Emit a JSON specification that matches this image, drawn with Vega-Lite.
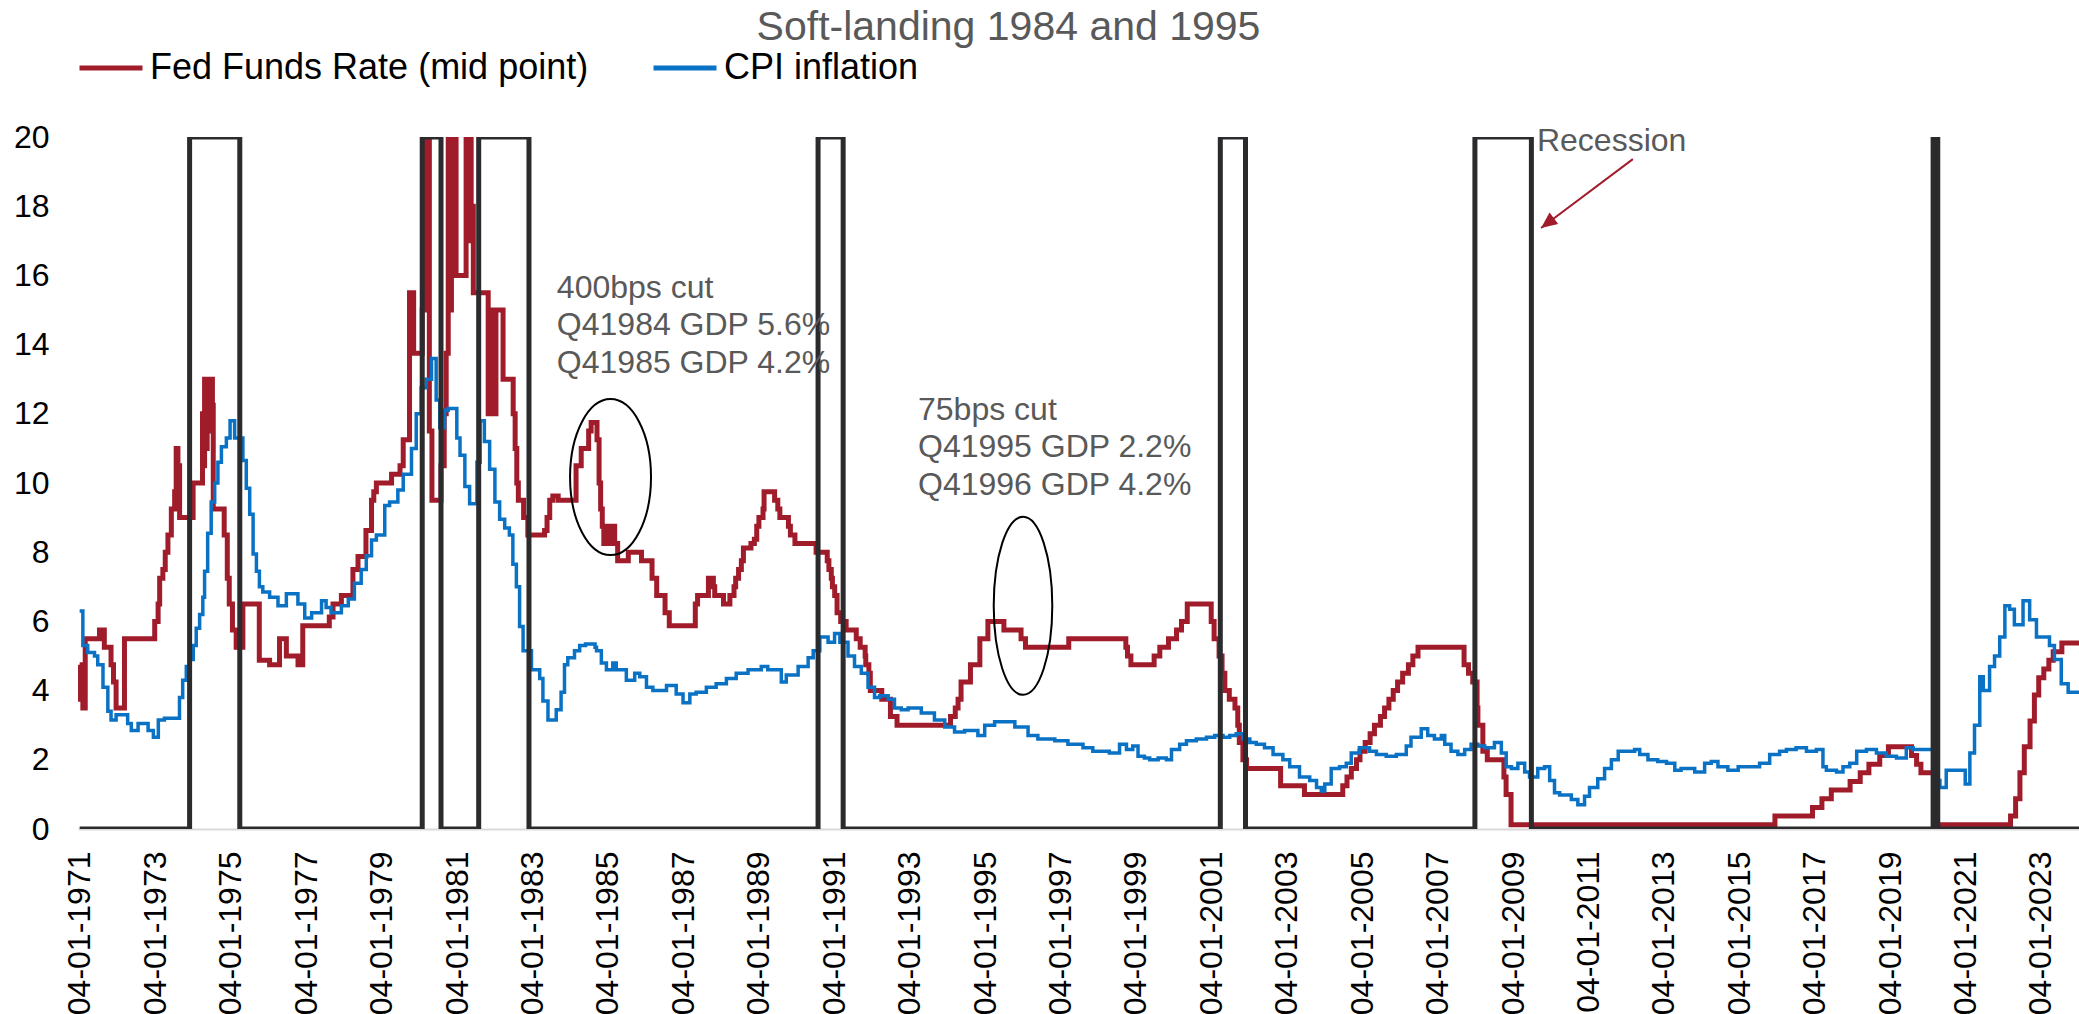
{
  "$schema": "https://vega.github.io/schema/vega-lite/v6.json",
  "width": 2001,
  "height": 692,
  "autosize": {"type": "none"},
  "padding": {"left": 78, "top": 137, "right": 0, "bottom": 185},
  "background": "white",
  "title": {
    "text": "Soft-landing 1984 and 1995",
    "font": "Liberation Sans",
    "fontSize": 41,
    "fontWeight": "normal",
    "color": "#595959",
    "anchor": "middle",
    "frame": "group",
    "dx": -70,
    "dy": 19
  },
  "datasets": {
    "fed": [
      {"date": "1971-01-01", "value": 4.75}, {"date": "1971-01-08", "value": 3.75}, {"date": "1971-01-15", "value": 4.5},
      {"date": "1971-01-22", "value": 3.75}, {"date": "1971-02-01", "value": 3.5}, {"date": "1971-02-24", "value": 5.5},
      {"date": "1971-07-12", "value": 5.75}, {"date": "1971-08-28", "value": 5.25}, {"date": "1971-11-01", "value": 4.75},
      {"date": "1971-11-25", "value": 4.25}, {"date": "1971-12-20", "value": 3.5}, {"date": "1972-03-10", "value": 5.5},
      {"date": "1972-12-28", "value": 6.0}, {"date": "1973-01-30", "value": 6.5}, {"date": "1973-02-14", "value": 7.25},
      {"date": "1973-03-17", "value": 7.5}, {"date": "1973-04-09", "value": 8.0}, {"date": "1973-05-05", "value": 8.5},
      {"date": "1973-06-07", "value": 9.25}, {"date": "1973-07-09", "value": 9.75}, {"date": "1973-07-24", "value": 11.0},
      {"date": "1973-08-10", "value": 10.5}, {"date": "1973-08-26", "value": 9.0}, {"date": "1974-01-04", "value": 10.0},
      {"date": "1974-04-05", "value": 12.0}, {"date": "1974-04-15", "value": 10.5}, {"date": "1974-04-25", "value": 13.0},
      {"date": "1974-05-10", "value": 11.0}, {"date": "1974-05-20", "value": 13.0}, {"date": "1974-06-05", "value": 11.5},
      {"date": "1974-06-15", "value": 13.0}, {"date": "1974-07-10", "value": 12.25}, {"date": "1974-07-18", "value": 9.25},
      {"date": "1974-11-01", "value": 8.5}, {"date": "1974-12-01", "value": 7.25}, {"date": "1974-12-20", "value": 6.5},
      {"date": "1975-01-20", "value": 5.75}, {"date": "1975-02-25", "value": 5.25}, {"date": "1975-05-01", "value": 6.5},
      {"date": "1975-10-07", "value": 4.875}, {"date": "1976-01-15", "value": 4.75}, {"date": "1976-04-20", "value": 5.5},
      {"date": "1976-06-25", "value": 5.0}, {"date": "1976-10-16", "value": 4.75}, {"date": "1976-12-01", "value": 5.875},
      {"date": "1977-08-15", "value": 6.125}, {"date": "1977-09-20", "value": 6.5}, {"date": "1977-12-10", "value": 6.75},
      {"date": "1978-04-01", "value": 7.5}, {"date": "1978-05-20", "value": 7.875}, {"date": "1978-08-05", "value": 8.625},
      {"date": "1978-09-28", "value": 9.5}, {"date": "1978-10-20", "value": 9.75}, {"date": "1978-11-14", "value": 10.0},
      {"date": "1979-04-10", "value": 10.25}, {"date": "1979-07-01", "value": 10.5}, {"date": "1979-08-01", "value": 11.25},
      {"date": "1979-10-01", "value": 15.5}, {"date": "1979-11-10", "value": 13.75}, {"date": "1980-02-01", "value": 15.0},
      {"date": "1980-03-01", "value": 20.0}, {"date": "1980-04-10", "value": 11.5}, {"date": "1980-05-05", "value": 9.5},
      {"date": "1980-08-01", "value": 10.5}, {"date": "1980-09-01", "value": 12.0}, {"date": "1980-09-20", "value": 13.75},
      {"date": "1980-10-10", "value": 20.0}, {"date": "1980-10-25", "value": 15.0}, {"date": "1980-11-10", "value": 20.0},
      {"date": "1980-11-25", "value": 16.0}, {"date": "1980-12-05", "value": 20.0}, {"date": "1980-12-25", "value": 16.0},
      {"date": "1981-04-01", "value": 20.0}, {"date": "1981-04-15", "value": 17.0}, {"date": "1981-05-01", "value": 20.0},
      {"date": "1981-05-20", "value": 18.0}, {"date": "1981-06-10", "value": 15.5}, {"date": "1981-11-01", "value": 12.0},
      {"date": "1981-11-15", "value": 15.0}, {"date": "1981-12-01", "value": 12.0}, {"date": "1981-12-15", "value": 14.5},
      {"date": "1982-01-01", "value": 12.0}, {"date": "1982-01-15", "value": 15.0}, {"date": "1982-03-25", "value": 13.0},
      {"date": "1982-07-01", "value": 12.0}, {"date": "1982-07-20", "value": 11.0}, {"date": "1982-08-05", "value": 10.0},
      {"date": "1982-08-20", "value": 9.5}, {"date": "1982-10-10", "value": 9.0}, {"date": "1982-11-20", "value": 8.5},
      {"date": "1983-05-01", "value": 8.625}, {"date": "1983-05-25", "value": 9.0}, {"date": "1983-06-20", "value": 9.5},
      {"date": "1983-07-20", "value": 9.625}, {"date": "1983-09-10", "value": 9.5}, {"date": "1984-03-01", "value": 10.5},
      {"date": "1984-04-20", "value": 11.0}, {"date": "1984-07-01", "value": 11.5}, {"date": "1984-07-25", "value": 11.75},
      {"date": "1984-09-20", "value": 11.25}, {"date": "1984-10-10", "value": 10.0}, {"date": "1984-10-25", "value": 9.25},
      {"date": "1984-11-10", "value": 8.75}, {"date": "1984-11-25", "value": 8.25}, {"date": "1984-12-10", "value": 8.75},
      {"date": "1984-12-25", "value": 8.25}, {"date": "1985-01-15", "value": 8.75}, {"date": "1985-02-01", "value": 8.25},
      {"date": "1985-02-20", "value": 8.75}, {"date": "1985-03-10", "value": 8.25}, {"date": "1985-04-08", "value": 7.75},
      {"date": "1985-07-20", "value": 8.0}, {"date": "1985-11-25", "value": 7.75}, {"date": "1986-03-07", "value": 7.25},
      {"date": "1986-04-21", "value": 6.75}, {"date": "1986-07-11", "value": 6.25}, {"date": "1986-08-21", "value": 5.875},
      {"date": "1987-04-30", "value": 6.5}, {"date": "1987-05-22", "value": 6.75}, {"date": "1987-09-04", "value": 7.25},
      {"date": "1987-10-22", "value": 7.0}, {"date": "1987-11-04", "value": 6.75}, {"date": "1988-01-28", "value": 6.5},
      {"date": "1988-03-30", "value": 6.75}, {"date": "1988-05-09", "value": 7.0}, {"date": "1988-05-25", "value": 7.25},
      {"date": "1988-06-22", "value": 7.5}, {"date": "1988-07-19", "value": 7.75}, {"date": "1988-08-08", "value": 8.125},
      {"date": "1988-10-20", "value": 8.25}, {"date": "1988-11-22", "value": 8.375}, {"date": "1988-12-15", "value": 8.75},
      {"date": "1989-01-05", "value": 9.0}, {"date": "1989-02-14", "value": 9.25}, {"date": "1989-02-24", "value": 9.75},
      {"date": "1989-06-06", "value": 9.5}, {"date": "1989-07-07", "value": 9.25}, {"date": "1989-07-27", "value": 9.0},
      {"date": "1989-10-18", "value": 8.75}, {"date": "1989-11-06", "value": 8.5}, {"date": "1989-12-20", "value": 8.25},
      {"date": "1990-07-13", "value": 8.0}, {"date": "1990-10-29", "value": 7.75}, {"date": "1990-11-14", "value": 7.5},
      {"date": "1990-12-07", "value": 7.25}, {"date": "1990-12-18", "value": 7.0}, {"date": "1991-01-09", "value": 6.75},
      {"date": "1991-02-01", "value": 6.25}, {"date": "1991-03-08", "value": 6.0}, {"date": "1991-04-30", "value": 5.75},
      {"date": "1991-08-06", "value": 5.5}, {"date": "1991-09-13", "value": 5.25}, {"date": "1991-10-31", "value": 5.0},
      {"date": "1991-11-06", "value": 4.75}, {"date": "1991-12-06", "value": 4.5}, {"date": "1991-12-20", "value": 4.0},
      {"date": "1992-04-09", "value": 3.75}, {"date": "1992-07-02", "value": 3.25}, {"date": "1992-09-04", "value": 3.0},
      {"date": "1994-02-04", "value": 3.25}, {"date": "1994-03-22", "value": 3.5}, {"date": "1994-04-18", "value": 3.75},
      {"date": "1994-05-17", "value": 4.25}, {"date": "1994-08-16", "value": 4.75}, {"date": "1994-11-15", "value": 5.5},
      {"date": "1995-02-01", "value": 6.0}, {"date": "1995-07-06", "value": 5.75}, {"date": "1995-12-19", "value": 5.5},
      {"date": "1996-01-31", "value": 5.25}, {"date": "1997-03-25", "value": 5.5}, {"date": "1998-09-29", "value": 5.25},
      {"date": "1998-10-15", "value": 5.0}, {"date": "1998-11-17", "value": 4.75}, {"date": "1999-06-30", "value": 5.0},
      {"date": "1999-08-24", "value": 5.25}, {"date": "1999-11-16", "value": 5.5}, {"date": "2000-02-02", "value": 5.75},
      {"date": "2000-03-21", "value": 6.0}, {"date": "2000-05-16", "value": 6.5}, {"date": "2001-01-03", "value": 6.0},
      {"date": "2001-01-31", "value": 5.5}, {"date": "2001-03-20", "value": 5.0}, {"date": "2001-04-18", "value": 4.5},
      {"date": "2001-05-15", "value": 4.0}, {"date": "2001-06-27", "value": 3.75}, {"date": "2001-08-21", "value": 3.5},
      {"date": "2001-09-17", "value": 3.0}, {"date": "2001-10-02", "value": 2.5}, {"date": "2001-11-06", "value": 2.0},
      {"date": "2001-12-11", "value": 1.75}, {"date": "2002-11-06", "value": 1.25}, {"date": "2003-06-25", "value": 1.0},
      {"date": "2004-06-30", "value": 1.25}, {"date": "2004-08-10", "value": 1.5}, {"date": "2004-09-21", "value": 1.75},
      {"date": "2004-11-10", "value": 2.0}, {"date": "2004-12-14", "value": 2.25}, {"date": "2005-02-02", "value": 2.5},
      {"date": "2005-03-22", "value": 2.75}, {"date": "2005-05-03", "value": 3.0}, {"date": "2005-06-30", "value": 3.25},
      {"date": "2005-08-09", "value": 3.5}, {"date": "2005-09-20", "value": 3.75}, {"date": "2005-11-01", "value": 4.0},
      {"date": "2005-12-13", "value": 4.25}, {"date": "2006-01-31", "value": 4.5}, {"date": "2006-03-28", "value": 4.75},
      {"date": "2006-05-10", "value": 5.0}, {"date": "2006-06-29", "value": 5.25}, {"date": "2007-09-18", "value": 4.75},
      {"date": "2007-10-31", "value": 4.5}, {"date": "2007-12-11", "value": 4.25}, {"date": "2008-01-22", "value": 3.5},
      {"date": "2008-01-30", "value": 3.0}, {"date": "2008-03-18", "value": 2.25}, {"date": "2008-04-30", "value": 2.0},
      {"date": "2008-10-08", "value": 1.5}, {"date": "2008-10-29", "value": 1.0}, {"date": "2008-12-16", "value": 0.125},
      {"date": "2015-12-16", "value": 0.375}, {"date": "2016-12-14", "value": 0.625}, {"date": "2017-03-15", "value": 0.875},
      {"date": "2017-06-14", "value": 1.125}, {"date": "2017-12-13", "value": 1.375}, {"date": "2018-03-21", "value": 1.625},
      {"date": "2018-06-13", "value": 1.875}, {"date": "2018-09-26", "value": 2.125}, {"date": "2018-12-19", "value": 2.375},
      {"date": "2019-07-31", "value": 2.125}, {"date": "2019-09-18", "value": 1.875}, {"date": "2019-10-30", "value": 1.625},
      {"date": "2020-03-03", "value": 1.125}, {"date": "2020-03-15", "value": 0.125}, {"date": "2022-03-16", "value": 0.375},
      {"date": "2022-05-04", "value": 0.875}, {"date": "2022-06-15", "value": 1.625}, {"date": "2022-07-27", "value": 2.375},
      {"date": "2022-09-21", "value": 3.125}, {"date": "2022-11-02", "value": 3.875}, {"date": "2022-12-14", "value": 4.375},
      {"date": "2023-02-01", "value": 4.625}, {"date": "2023-03-22", "value": 4.875}, {"date": "2023-05-03", "value": 5.125},
      {"date": "2023-07-26", "value": 5.375}, {"date": "2024-01-08", "value": 5.375}
    ],
    "cpi": [
      {"date": "1971-01-01", "value": 6.3}, {"date": "1971-02-01", "value": 5.3}, {"date": "1971-03-20", "value": 5.1},
      {"date": "1971-05-25", "value": 5.0}, {"date": "1971-06-25", "value": 4.75}, {"date": "1971-08-15", "value": 4.1},
      {"date": "1971-10-01", "value": 3.4}, {"date": "1971-11-01", "value": 3.15}, {"date": "1971-12-20", "value": 3.3},
      {"date": "1972-04-10", "value": 3.05}, {"date": "1972-05-15", "value": 2.85}, {"date": "1972-07-20", "value": 3.05},
      {"date": "1972-10-25", "value": 2.85}, {"date": "1972-12-15", "value": 2.65}, {"date": "1973-02-01", "value": 3.15},
      {"date": "1973-04-01", "value": 3.2}, {"date": "1973-08-25", "value": 3.8}, {"date": "1973-09-25", "value": 4.3},
      {"date": "1973-10-30", "value": 4.7}, {"date": "1973-12-01", "value": 4.9}, {"date": "1974-01-05", "value": 5.3},
      {"date": "1974-02-03", "value": 5.8}, {"date": "1974-03-08", "value": 6.2}, {"date": "1974-04-08", "value": 6.7},
      {"date": "1974-04-25", "value": 7.45}, {"date": "1974-05-25", "value": 8.55}, {"date": "1974-06-28", "value": 9.45},
      {"date": "1974-08-01", "value": 10.0}, {"date": "1974-09-01", "value": 10.6}, {"date": "1974-10-05", "value": 11.05},
      {"date": "1974-11-22", "value": 11.3}, {"date": "1974-12-28", "value": 11.8}, {"date": "1975-02-10", "value": 11.3},
      {"date": "1975-05-01", "value": 10.65}, {"date": "1975-06-03", "value": 9.85}, {"date": "1975-07-06", "value": 9.1},
      {"date": "1975-08-08", "value": 7.95}, {"date": "1975-09-09", "value": 7.45}, {"date": "1975-10-08", "value": 7.0},
      {"date": "1975-11-10", "value": 6.85}, {"date": "1976-01-15", "value": 6.7}, {"date": "1976-04-05", "value": 6.45},
      {"date": "1976-06-25", "value": 6.8}, {"date": "1976-10-15", "value": 6.5}, {"date": "1976-12-20", "value": 6.1},
      {"date": "1977-02-25", "value": 6.25}, {"date": "1977-06-01", "value": 6.6}, {"date": "1977-07-15", "value": 6.4},
      {"date": "1977-09-01", "value": 6.25}, {"date": "1977-12-10", "value": 6.45}, {"date": "1978-02-15", "value": 6.65},
      {"date": "1978-04-15", "value": 7.1}, {"date": "1978-06-20", "value": 7.5}, {"date": "1978-08-08", "value": 7.9},
      {"date": "1978-09-28", "value": 8.35}, {"date": "1978-11-14", "value": 8.5}, {"date": "1979-02-03", "value": 9.35},
      {"date": "1979-03-22", "value": 9.45}, {"date": "1979-06-10", "value": 9.8}, {"date": "1979-08-01", "value": 10.25},
      {"date": "1979-10-20", "value": 11.0}, {"date": "1979-12-05", "value": 12.0}, {"date": "1980-01-22", "value": 12.75},
      {"date": "1980-03-10", "value": 13.0}, {"date": "1980-05-01", "value": 13.6}, {"date": "1980-06-15", "value": 12.4},
      {"date": "1980-07-20", "value": 11.6}, {"date": "1980-09-05", "value": 12.1}, {"date": "1980-10-10", "value": 12.15},
      {"date": "1981-01-01", "value": 11.3}, {"date": "1981-02-01", "value": 10.8}, {"date": "1981-03-20", "value": 9.9},
      {"date": "1981-05-05", "value": 9.4}, {"date": "1981-07-15", "value": 10.6}, {"date": "1981-08-15", "value": 11.8},
      {"date": "1981-09-25", "value": 11.2}, {"date": "1981-11-15", "value": 10.4}, {"date": "1982-01-05", "value": 9.45},
      {"date": "1982-02-20", "value": 8.95}, {"date": "1982-04-10", "value": 8.7}, {"date": "1982-05-25", "value": 8.5},
      {"date": "1982-06-28", "value": 7.65}, {"date": "1982-08-01", "value": 7.0}, {"date": "1982-09-01", "value": 5.85},
      {"date": "1982-10-05", "value": 5.15}, {"date": "1982-12-25", "value": 4.6}, {"date": "1983-03-15", "value": 4.35},
      {"date": "1983-04-15", "value": 3.7}, {"date": "1983-06-03", "value": 3.15}, {"date": "1983-08-22", "value": 3.45},
      {"date": "1983-10-08", "value": 3.95}, {"date": "1983-11-10", "value": 4.75}, {"date": "1983-12-12", "value": 4.95},
      {"date": "1984-02-15", "value": 5.15}, {"date": "1984-04-05", "value": 5.3}, {"date": "1984-06-01", "value": 5.35},
      {"date": "1984-09-01", "value": 5.25}, {"date": "1984-09-15", "value": 5.15}, {"date": "1984-11-01", "value": 4.8},
      {"date": "1984-12-20", "value": 4.6}, {"date": "1985-02-20", "value": 4.8}, {"date": "1985-03-25", "value": 4.6},
      {"date": "1985-07-01", "value": 4.3}, {"date": "1985-09-20", "value": 4.5}, {"date": "1985-11-08", "value": 4.4},
      {"date": "1986-01-12", "value": 4.1}, {"date": "1986-03-15", "value": 4.0}, {"date": "1986-07-25", "value": 4.15},
      {"date": "1986-10-27", "value": 3.9}, {"date": "1987-01-01", "value": 3.65}, {"date": "1987-03-08", "value": 3.9},
      {"date": "1987-05-08", "value": 3.95}, {"date": "1987-08-15", "value": 4.1}, {"date": "1987-11-18", "value": 4.2},
      {"date": "1988-02-25", "value": 4.35}, {"date": "1988-05-30", "value": 4.5}, {"date": "1988-09-22", "value": 4.6},
      {"date": "1989-01-28", "value": 4.7}, {"date": "1989-04-01", "value": 4.6}, {"date": "1989-08-10", "value": 4.25},
      {"date": "1989-09-27", "value": 4.45}, {"date": "1990-01-20", "value": 4.7}, {"date": "1990-04-27", "value": 4.95},
      {"date": "1990-06-15", "value": 5.15}, {"date": "1990-08-18", "value": 5.55}, {"date": "1990-11-06", "value": 5.4},
      {"date": "1991-01-08", "value": 5.65}, {"date": "1991-02-28", "value": 5.4}, {"date": "1991-05-18", "value": 5.0},
      {"date": "1991-07-20", "value": 4.7}, {"date": "1991-09-24", "value": 4.5}, {"date": "1991-11-28", "value": 4.1},
      {"date": "1992-01-30", "value": 3.8}, {"date": "1992-03-20", "value": 3.85}, {"date": "1992-06-10", "value": 3.75},
      {"date": "1992-08-10", "value": 3.5}, {"date": "1992-10-15", "value": 3.45}, {"date": "1992-12-20", "value": 3.5},
      {"date": "1993-04-27", "value": 3.35}, {"date": "1993-09-01", "value": 3.15}, {"date": "1993-12-10", "value": 2.95},
      {"date": "1994-03-15", "value": 2.8}, {"date": "1994-06-20", "value": 2.85}, {"date": "1994-10-27", "value": 2.7},
      {"date": "1995-01-01", "value": 3.0}, {"date": "1995-04-07", "value": 3.1}, {"date": "1995-10-20", "value": 2.95},
      {"date": "1996-02-25", "value": 2.7}, {"date": "1996-05-30", "value": 2.6}, {"date": "1996-11-10", "value": 2.55},
      {"date": "1997-03-17", "value": 2.45}, {"date": "1997-08-10", "value": 2.35}, {"date": "1997-11-13", "value": 2.25},
      {"date": "1998-04-22", "value": 2.2}, {"date": "1998-07-30", "value": 2.45}, {"date": "1998-10-05", "value": 2.3},
      {"date": "1998-12-05", "value": 2.4}, {"date": "1999-01-25", "value": 2.1}, {"date": "1999-03-28", "value": 2.05},
      {"date": "1999-05-18", "value": 2.0}, {"date": "1999-08-08", "value": 2.05}, {"date": "1999-10-27", "value": 2.0},
      {"date": "1999-12-15", "value": 2.3}, {"date": "2000-03-03", "value": 2.45}, {"date": "2000-05-08", "value": 2.55},
      {"date": "2000-08-11", "value": 2.6}, {"date": "2000-11-18", "value": 2.65}, {"date": "2001-02-06", "value": 2.7},
      {"date": "2001-04-27", "value": 2.65}, {"date": "2001-07-01", "value": 2.7}, {"date": "2001-09-02", "value": 2.75},
      {"date": "2001-11-07", "value": 2.6}, {"date": "2002-01-12", "value": 2.5}, {"date": "2002-03-15", "value": 2.45},
      {"date": "2002-06-03", "value": 2.35}, {"date": "2002-08-25", "value": 2.15}, {"date": "2002-11-28", "value": 2.0},
      {"date": "2003-02-02", "value": 1.8}, {"date": "2003-05-08", "value": 1.5}, {"date": "2003-08-15", "value": 1.4},
      {"date": "2003-10-20", "value": 1.2}, {"date": "2003-12-05", "value": 1.1}, {"date": "2004-01-08", "value": 1.3},
      {"date": "2004-03-10", "value": 1.75}, {"date": "2004-05-30", "value": 1.8}, {"date": "2004-08-03", "value": 1.9},
      {"date": "2004-09-20", "value": 2.2}, {"date": "2004-12-08", "value": 2.35}, {"date": "2005-03-17", "value": 2.25},
      {"date": "2005-05-22", "value": 2.15}, {"date": "2005-08-25", "value": 2.1}, {"date": "2005-12-01", "value": 2.15},
      {"date": "2006-03-07", "value": 2.4}, {"date": "2006-04-22", "value": 2.65}, {"date": "2006-07-30", "value": 2.9},
      {"date": "2006-10-01", "value": 2.7}, {"date": "2006-12-05", "value": 2.6}, {"date": "2007-02-10", "value": 2.7},
      {"date": "2007-03-15", "value": 2.45}, {"date": "2007-05-15", "value": 2.25}, {"date": "2007-07-20", "value": 2.15},
      {"date": "2007-09-24", "value": 2.3}, {"date": "2007-11-25", "value": 2.45}, {"date": "2008-01-30", "value": 2.4},
      {"date": "2008-04-05", "value": 2.35}, {"date": "2008-07-08", "value": 2.5}, {"date": "2008-09-13", "value": 2.2},
      {"date": "2008-10-30", "value": 1.8}, {"date": "2008-12-20", "value": 1.75}, {"date": "2009-02-20", "value": 1.9},
      {"date": "2009-04-27", "value": 1.65}, {"date": "2009-06-13", "value": 1.5}, {"date": "2009-09-01", "value": 1.75},
      {"date": "2009-11-06", "value": 1.8}, {"date": "2009-12-25", "value": 1.4}, {"date": "2010-02-10", "value": 1.05},
      {"date": "2010-04-01", "value": 0.98}, {"date": "2010-07-23", "value": 0.85}, {"date": "2010-09-24", "value": 0.7},
      {"date": "2010-11-28", "value": 0.95}, {"date": "2011-01-15", "value": 1.2}, {"date": "2011-04-05", "value": 1.45},
      {"date": "2011-06-10", "value": 1.75}, {"date": "2011-08-15", "value": 2.0}, {"date": "2011-10-20", "value": 2.25},
      {"date": "2012-03-27", "value": 2.3}, {"date": "2012-05-15", "value": 2.15}, {"date": "2012-08-03", "value": 2.0},
      {"date": "2012-11-06", "value": 1.95}, {"date": "2013-01-30", "value": 1.9}, {"date": "2013-04-20", "value": 1.7},
      {"date": "2013-06-20", "value": 1.75}, {"date": "2013-10-30", "value": 1.65}, {"date": "2014-02-03", "value": 1.9},
      {"date": "2014-04-08", "value": 1.95}, {"date": "2014-06-12", "value": 1.8}, {"date": "2014-09-16", "value": 1.7},
      {"date": "2014-12-25", "value": 1.8}, {"date": "2015-07-20", "value": 1.9}, {"date": "2015-10-26", "value": 2.15},
      {"date": "2016-01-30", "value": 2.25}, {"date": "2016-04-05", "value": 2.3}, {"date": "2016-07-08", "value": 2.35},
      {"date": "2016-10-16", "value": 2.25}, {"date": "2017-01-20", "value": 2.3}, {"date": "2017-03-25", "value": 1.8},
      {"date": "2017-04-27", "value": 1.7}, {"date": "2017-08-03", "value": 1.65}, {"date": "2017-10-05", "value": 1.8},
      {"date": "2017-12-10", "value": 1.9}, {"date": "2018-02-15", "value": 2.25}, {"date": "2018-05-20", "value": 2.3},
      {"date": "2018-08-25", "value": 2.2}, {"date": "2018-11-28", "value": 2.1}, {"date": "2019-03-07", "value": 2.05},
      {"date": "2019-06-10", "value": 2.35}, {"date": "2019-08-15", "value": 2.3}, {"date": "2020-04-01", "value": 1.4},
      {"date": "2020-05-01", "value": 1.2}, {"date": "2020-07-01", "value": 1.7}, {"date": "2021-01-01", "value": 1.3},
      {"date": "2021-02-15", "value": 2.2}, {"date": "2021-04-01", "value": 3.0}, {"date": "2021-05-22", "value": 4.4},
      {"date": "2021-06-25", "value": 4.0}, {"date": "2021-08-25", "value": 4.7}, {"date": "2021-10-12", "value": 5.0},
      {"date": "2021-12-01", "value": 5.55}, {"date": "2022-01-20", "value": 6.45}, {"date": "2022-03-07", "value": 6.35},
      {"date": "2022-04-22", "value": 5.9}, {"date": "2022-07-15", "value": 6.6}, {"date": "2022-09-17", "value": 6.05},
      {"date": "2022-11-22", "value": 5.55}, {"date": "2023-03-28", "value": 5.3}, {"date": "2023-05-15", "value": 4.9},
      {"date": "2023-07-20", "value": 4.2}, {"date": "2023-09-25", "value": 3.95}, {"date": "2024-01-08", "value": 3.95}
    ],
    "recession": [
      {"date": "1971-01-01", "value": 0}, {"date": "1973-12-01", "value": 20}, {"date": "1975-04-01", "value": 0},
      {"date": "1980-02-01", "value": 20}, {"date": "1980-08-01", "value": 0}, {"date": "1981-08-01", "value": 20},
      {"date": "1982-12-01", "value": 0}, {"date": "1990-08-01", "value": 20}, {"date": "1991-04-01", "value": 0},
      {"date": "2001-04-01", "value": 20}, {"date": "2001-12-01", "value": 0}, {"date": "2008-01-01", "value": 20},
      {"date": "2009-07-01", "value": 0}, {"date": "2020-02-25", "value": 20}, {"date": "2020-04-10", "value": 0},
      {"date": "2024-01-08", "value": 0}
    ],
    "notes": [
      {"date": "1983-08-28", "value": 15.64, "label": "400bps cut"},
      {"date": "1983-08-28", "value": 14.57, "label": "Q41984 GDP 5.6%"},
      {"date": "1983-08-28", "value": 13.47, "label": "Q41985 GDP 4.2%"},
      {"date": "1993-03-26", "value": 12.11, "label": "75bps cut"},
      {"date": "1993-03-26", "value": 11.04, "label": "Q41995 GDP 2.2%"},
      {"date": "1993-03-26", "value": 9.94, "label": "Q41996 GDP 4.2%"},
      {"date": "2009-08-24", "value": 19.88, "label": "Recession"}
    ],
    "circles": [
      {"date": "1985-01-29", "value": 10.17, "cut": "400bps"},
      {"date": "1996-01-07", "value": 6.45, "cut": "75bps"}
    ],
    "arrow": [
      {"date": "2012-03-10", "value": 19.36, "date2": "2009-10-03", "value2": 17.37}
    ]
  },
  "encoding": {
    "x": {
      "field": "date",
      "type": "temporal",
      "scale": {
        "type": "utc",
        "domain": [
          {"year": 1970, "month": 12, "date": 16, "utc": true},
          {"year": 2024, "month": 1, "date": 8, "utc": true}
        ]
      },
      "axis": {
        "title": null,
        "format": "%d-%m-%Y",
        "values": [
          {"year": 1971, "month": 1, "date": 4, "utc": true}, {"year": 1973, "month": 1, "date": 4, "utc": true},
          {"year": 1975, "month": 1, "date": 4, "utc": true}, {"year": 1977, "month": 1, "date": 4, "utc": true},
          {"year": 1979, "month": 1, "date": 4, "utc": true}, {"year": 1981, "month": 1, "date": 4, "utc": true},
          {"year": 1983, "month": 1, "date": 4, "utc": true}, {"year": 1985, "month": 1, "date": 4, "utc": true},
          {"year": 1987, "month": 1, "date": 4, "utc": true}, {"year": 1989, "month": 1, "date": 4, "utc": true},
          {"year": 1991, "month": 1, "date": 4, "utc": true}, {"year": 1993, "month": 1, "date": 4, "utc": true},
          {"year": 1995, "month": 1, "date": 4, "utc": true}, {"year": 1997, "month": 1, "date": 4, "utc": true},
          {"year": 1999, "month": 1, "date": 4, "utc": true}, {"year": 2001, "month": 1, "date": 4, "utc": true},
          {"year": 2003, "month": 1, "date": 4, "utc": true}, {"year": 2005, "month": 1, "date": 4, "utc": true},
          {"year": 2007, "month": 1, "date": 4, "utc": true}, {"year": 2009, "month": 1, "date": 4, "utc": true},
          {"year": 2011, "month": 1, "date": 4, "utc": true}, {"year": 2013, "month": 1, "date": 4, "utc": true},
          {"year": 2015, "month": 1, "date": 4, "utc": true}, {"year": 2017, "month": 1, "date": 4, "utc": true},
          {"year": 2019, "month": 1, "date": 4, "utc": true}, {"year": 2021, "month": 1, "date": 4, "utc": true},
          {"year": 2023, "month": 1, "date": 4, "utc": true}
        ],
        "labelAngle": -90,
        "labelPadding": 22,
        "domainColor": "#D9D9D9",
        "domainWidth": 2,
        "labelOverlap": false,
        "labelFlush": false,
        "labelBound": false
      }
    },
    "y": {
      "field": "value",
      "type": "quantitative",
      "scale": {"domain": [0, 20], "nice": false},
      "axis": {
        "title": null,
        "values": [0, 2, 4, 6, 8, 10, 12, 14, 16, 18, 20],
        "domain": false,
        "labelPadding": 29
      }
    }
  },
  "layer": [
    {
      "data": {"name": "fed"},
      "mark": {"type": "line", "interpolate": "step-after", "strokeWidth": 5, "clip": true},
      "encoding": {
        "color": {
          "datum": "Fed Funds Rate (mid point)",
          "type": "nominal",
          "scale": {"domain": ["Fed Funds Rate (mid point)", "CPI inflation"], "range": ["#A01C2B", "#0A72C4"]},
          "legend": {
            "orient": "none", "legendX": -1, "legendY": -103, "direction": "horizontal",
            "symbolType": "stroke", "symbolSize": 3969, "symbolStrokeWidth": 5,
            "labelFontSize": 36, "labelFont": "Liberation Sans", "labelColor": "#000000",
            "labelOffset": 5, "columnPadding": 54, "title": null, "padding": 0, "labelLimit": 0
          }
        }
      }
    },
    {
      "data": {"name": "cpi"},
      "mark": {"type": "line", "interpolate": "step-after", "strokeWidth": 3.5, "clip": true},
      "encoding": {
        "color": {"datum": "CPI inflation", "type": "nominal"}
      }
    },
    {
      "data": {"name": "recession"},
      "mark": {"type": "line", "interpolate": "step-after", "strokeWidth": 5, "color": "#2B2B2E", "clip": true},
      "encoding": {}
    },
    {
      "data": {"name": "notes"},
      "mark": {"type": "text", "align": "left", "baseline": "middle", "font": "Liberation Sans", "fontSize": 32, "color": "#595959"},
      "encoding": {"text": {"field": "label"}}
    },
    {
      "data": {"name": "circles"},
      "transform": [{"filter": "datum.cut === '400bps'"}],
      "mark": {
        "type": "point", "filled": false, "stroke": "#000000", "strokeWidth": 2, "opacity": 1,
        "shape": "M-0.519,0A0.519,1,0,1,0,0.519,0A0.519,1,0,1,0,-0.519,0Z",
        "size": 24336
      }
    },
    {
      "data": {"name": "circles"},
      "transform": [{"filter": "datum.cut === '75bps'"}],
      "mark": {
        "type": "point", "filled": false, "stroke": "#000000", "strokeWidth": 2, "opacity": 1,
        "shape": "M-0.329,0A0.329,1,0,1,0,0.329,0A0.329,1,0,1,0,-0.329,0Z",
        "size": 31684
      }
    },
    {
      "data": {"name": "arrow"},
      "mark": {"type": "rule", "color": "#A01C2B", "strokeWidth": 2},
      "encoding": {
        "x2": {"field": "date2"},
        "y2": {"field": "value2"}
      }
    },
    {
      "data": {"name": "arrow"},
      "mark": {
        "type": "point", "filled": true, "color": "#A01C2B", "opacity": 1,
        "shape": "M0,0L-0.45,1L0.45,1Z", "size": 1024, "angle": 233
      },
      "encoding": {
        "x": {"field": "date2", "type": "temporal"},
        "y": {"field": "value2", "type": "quantitative"}
      }
    }
  ],
  "config": {
    "view": {"stroke": null},
    "font": "Liberation Sans",
    "axis": {
      "grid": false,
      "ticks": false,
      "tickSize": 0,
      "labelFont": "Liberation Sans",
      "labelFontSize": 32,
      "labelColor": "#000000"
    }
  }
}
